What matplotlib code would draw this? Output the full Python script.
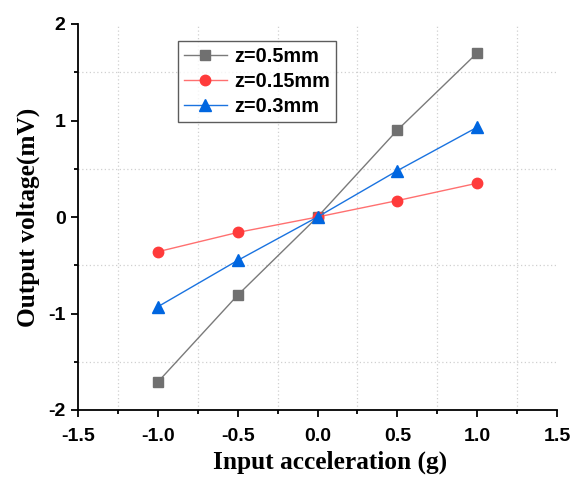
import matplotlib
matplotlib.use("Agg")
import matplotlib.pyplot as plt
from matplotlib.ticker import MultipleLocator

plt.rcParams["axes.unicode_minus"] = False

accel = [-1.0, -0.5, 0.0, 0.5, 1.0]
v_z05 = [-1.71, -0.81, 0.0, 0.90, 1.70]
v_z015 = [-0.36, -0.16, 0.0, 0.17, 0.35]
v_z03 = [-0.93, -0.45, 0.0, 0.48, 0.93]
labels = ["z=0.5mm", "z=0.15mm", "z=0.3mm"]

fig = plt.figure(figsize=(5.74, 4.79), dpi=100)
ax = fig.add_axes([78 / 574, 1 - 410 / 479, (557 - 78) / 574, (410 - 24) / 479])

ax.plot(accel, v_z05, color="#7a7a7a", lw=1.0, marker="s", ms=7,
        mfc="#707070", mec="#707070", label=labels[0])
ax.plot(accel, v_z015, color="#ff7070", lw=1.0, marker="o", ms=7.5,
        mfc="#ff3b3b", mec="#ff3b3b", label=labels[1])
ax.plot(accel, v_z03, color="#1a73e0", lw=1.0, marker="^", ms=8,
        mfc="#0066e0", mec="#0066e0", label=labels[2])

ax.set_xlim(-1.5, 1.5)
ax.set_ylim(-2, 2)
ax.xaxis.set_major_locator(MultipleLocator(0.5))
ax.xaxis.set_minor_locator(MultipleLocator(0.25))
ax.yaxis.set_major_locator(MultipleLocator(1))
ax.yaxis.set_minor_locator(MultipleLocator(0.5))
ax.set_xticklabels([f"{v:.1f}" for v in ax.get_xticks()])

for side in ("top", "right"):
    ax.spines[side].set_visible(False)
for side in ("left", "bottom"):
    ax.spines[side].set_linewidth(1.3)

ax.grid(which="minor", color="#d0d0d0", ls=(0, (1, 2)), lw=0.9)
ax.grid(which="major", visible=False)
ax.set_axisbelow(True)

ax.tick_params(which="major", direction="out", length=5, width=1.3,
               labelsize=14)
ax.tick_params(which="minor", direction="out", length=3, width=1.3)
ax.tick_params(axis="x", which="major", pad=8)
ax.tick_params(axis="y", which="major", pad=4)
for lab in ax.get_xticklabels() + ax.get_yticklabels():
    lab.set_fontfamily("Liberation Sans")
    lab.set_fontweight("bold")

ax.set_xlabel("Input acceleration (g)", fontfamily="Liberation Serif",
              fontweight="bold", fontsize=18.3, labelpad=3)
ax.xaxis.set_label_coords(0.526, -0.105)
ax.set_ylabel("Output voltage(mV)", fontfamily="Liberation Serif",
              fontweight="bold", fontsize=18.3, labelpad=6)

leg = ax.legend(loc="upper left", bbox_to_anchor=(0.208, 0.955),
                prop={"family": "Liberation Sans", "weight": "bold", "size": 14.3},
                frameon=True, fancybox=False, edgecolor="#333333",
                handlelength=2.2, handletextpad=0.35, borderpad=0.3,
                labelspacing=0.3, borderaxespad=0)
leg.get_frame().set_linewidth(1.0)

fig.savefig("out.png", dpi=100)
